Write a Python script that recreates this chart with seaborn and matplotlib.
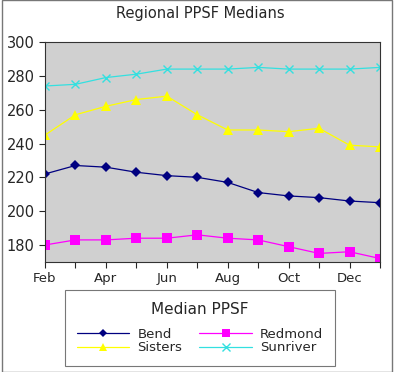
import pandas as pd
import numpy as np
import seaborn as sns
import matplotlib
matplotlib.use('Agg')
import matplotlib.pyplot as plt

# monthly median price per square foot
months = ['Feb', 'Mar', 'Apr', 'May', 'Jun', 'Jul', 'Aug', 'Sep', 'Oct', 'Nov', 'Dec', 'Jan']
bend = [222, 227, 226, 223, 221, 220, 217, 211, 209, 208, 206, 205]
redmond = [180, 183, 183, 184, 184, 186, 184, 183, 179, 175, 176, 172]
sisters = [245, 257, 262, 266, 268, 257, 248, 248, 247, 249, 239, 238]
sunriver = [274, 275, 279, 281, 284, 284, 284, 285, 284, 284, 284, 285]

towns = ['Bend', 'Redmond', 'Sisters', 'Sunriver']
colors = {'Bend': '#000080', 'Redmond': '#ff00ff', 'Sisters': '#ffff00', 'Sunriver': '#33e0e0'}
markers = {'Bend': 'D', 'Redmond': 's', 'Sisters': '^', 'Sunriver': 'x'}
msizes = {'Bend': 5, 'Redmond': 7, 'Sisters': 7, 'Sunriver': 6}

df = pd.DataFrame({'month': list(range(len(months))) * 4,
                   'town': np.repeat(towns, len(months)),
                   'ppsf': bend + redmond + sisters + sunriver})

sns.set_style('white')
fig = plt.figure(figsize=(4, 3.72), dpi=100)
ax = fig.add_axes([0.1125, 0.296, 0.8375, 0.591])
ax.set_facecolor('#d0d0d0')

for t in towns:
    sub = df[df['town'] == t]
    sns.lineplot(data=sub, x='month', y='ppsf', ax=ax, color=colors[t], marker=markers[t],
                 markersize=msizes[t], markeredgecolor=colors[t], markeredgewidth=1.0 if t == 'Sunriver' else 0,
                 linewidth=0.9, label=t, legend=False)

ax.set_xlim(0, 11)
ax.set_ylim(170, 300)
ax.set_xticks(range(len(months)))
ax.set_xticklabels([m if i % 2 == 0 else '' for i, m in enumerate(months)], fontsize=9.5)
ax.set_yticks(range(180, 301, 20))
ax.tick_params(axis='y', labelsize=10.5, length=4, direction='out', left=True)
ax.tick_params(axis='x', length=4, direction='out', bottom=True)
ax.set_xlabel('')
ax.set_ylabel('')
for s in ax.spines.values():
    s.set_color('#333333')
    s.set_linewidth(0.8)

fig.suptitle('Regional PPSF Medians', y=0.985, fontsize=10.5)

handles, labels = ax.get_legend_handles_labels()
order = [0, 2, 1, 3]
leg = fig.legend([handles[i] for i in order], [labels[i] for i in order], ncol=2,
                 title='Median PPSF', title_fontsize=11, fontsize=9.5,
                 loc='center', bbox_to_anchor=(0.5, 0.118), frameon=True, fancybox=False,
                 edgecolor='#555555', borderpad=0.9, handlelength=4.0, columnspacing=1.3,
                 labelspacing=0.05, handletextpad=0.6, markerscale=0.85)
leg.get_frame().set_linewidth(0.8)
leg._legend_box.sep = 8

fig.patches.append(plt.Rectangle((0.004, 0.0), 0.975, 1.0, transform=fig.transFigure,
                                 fill=False, edgecolor='#777777', linewidth=1))

plt.savefig('out.png', dpi=100)
